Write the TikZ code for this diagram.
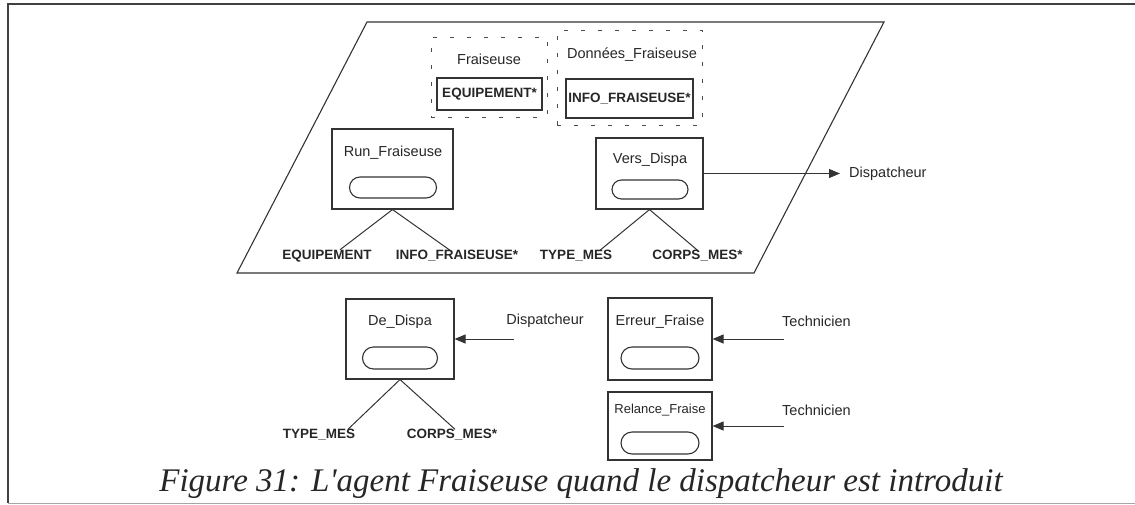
\documentclass[tikz,border=0pt]{standalone}
\usepackage{fontspec}
\setmainfont{Liberation Sans}
\newfontfamily\captionserif{Liberation Serif}
\usetikzlibrary{arrows.meta,shapes.misc}

\begin{document}
\begin{tikzpicture}[x=1pt,y=-1pt,
    every node/.style={inner sep=0pt, text=black!85},
    lbl/.style={font=\fontsize{14.5}{16}\selectfont},
    lblsmall/.style={font=\fontsize{13}{15}\selectfont},
    bold/.style={font=\fontsize{13.5}{15}\selectfont\bfseries},
    agentbox/.style n args={2}{draw=black!80, line width=1.1pt, minimum width=#1, minimum height=#2},
    pill/.style n args={2}{draw=black!80, line width=1.1pt, rounded rectangle, minimum width=#1, minimum height=#2},
    dotbox/.style={draw=black!70, line width=1pt, dash pattern=on 4pt off 13pt},
    msg/.style={draw=black!80, line width=1pt, -{Triangle[length=11pt,width=9pt]}}]
    \useasboundingbox (0,0) rectangle (1135,504);
    \draw[black!75, line width=1.8pt] (1135,4) -- (8,4) -- (8,503);
    \draw[black!35, line width=1pt] (8,503) -- (1135,503);

    \draw[black!80, line width=1.1pt] (367,22) -- (884,22) -- (754,273) -- (237,273) -- cycle;

    \node[dotbox, minimum width=116, minimum height=80] (grpFraiseuse) at (489,77) {};
    \node[lbl] (nFraiseuse) at (489,59) {Fraiseuse};
    \node[bold, draw=black!80, line width=1.1pt, minimum width=105, minimum height=32] (equipStar) at (489.5,94) {EQUIPEMENT*};

    \node[dotbox, minimum width=145, minimum height=95] (grpDonnees) at (629.5,77.5) {};
    \node[lbl] (nDonnees) at (632,55) {Données\_Fraiseuse};
    \node[bold, draw=black!80, line width=1.1pt, minimum width=127, minimum height=39] (infoStar) at (629.5,98.5) {INFO\_FRAISEUSE*};

    \node[agentbox={121}{80}] (run) at (392.5,169) {};
    \node[lbl] (runName) at (393,153) {Run\_Fraiseuse};
    \node[pill={87}{21}] (runOval) at (393,187.5) {};
    \node[bold] (runEquip) at (327,256) {EQUIPEMENT};
    \node[bold] (runInfo) at (457,256) {INFO\_FRAISEUSE*};
    \draw[black!80, line width=1pt] ([xshift=13]runEquip.north) -- (run.south) -- ([xshift=-7]runInfo.north);

    \node[agentbox={107}{71}] (vers) at (649.5,173.5) {};
    \node[lbl] (versName) at (650,160) {Vers\_Dispa};
    \node[pill={76}{19}] (versOval) at (650,189.5) {};
    \node[bold] (versType) at (576,256) {TYPE\_MES};
    \node[bold] (versCorps) at (697.5,256) {CORPS\_MES*};
    \draw[black!80, line width=1pt] ([xshift=24]versType.north) -- (vers.south) -- (versCorps.north);
    \node[lbl, anchor=west] (dispOut) at (849,173.5) {Dispatcheur};
    \draw[msg, shorten >=9pt] (vers.east) -- (dispOut.west);

    \node[agentbox={108}{80}] (deDispa) at (400,339) {};
    \node[lbl] (deName) at (400,322) {De\_Dispa};
    \node[pill={75}{22}] (deOval) at (400,358) {};
    \node[bold] (deType) at (319,435) {TYPE\_MES};
    \node[bold] (deCorps) at (452,435) {CORPS\_MES*};
    \draw[black!80, line width=1pt] ([xshift=29]deType.north) -- (deDispa.south) -- ([xshift=3]deCorps.north);
    \node[lbl] (dispIn) at (545,321) {Dispatcheur};
    \coordinate (dispInEnd) at (514,339);
    \draw[msg] (dispInEnd) -- (deDispa.east);

    \node[agentbox={104}{82}] (erreur) at (660,339) {};
    \node[lbl] (erreurName) at (660,322) {Erreur\_Fraise};
    \node[pill={78}{22}] (erreurOval) at (660,358) {};
    \node[lbl, anchor=west] (techA) at (782,321) {Technicien};
    \coordinate (techAEnd) at (784,339);
    \draw[msg] (techAEnd) -- (erreur.east);

    \node[agentbox={104}{68}] (relance) at (660,426) {};
    \node[lblsmall] (relanceName) at (660,410) {Relance\_Fraise};
    \node[pill={78}{22}] (relanceOval) at (660,443) {};
    \node[lbl, anchor=west] (techB) at (782,410) {Technicien};
    \coordinate (techBEnd) at (784,426);
    \draw[msg] (techBEnd) -- (relance.east);

    \node[font=\captionserif\itshape\fontsize{33}{36}\selectfont] (caption) at (581,484) {Figure 31: L'agent Fraiseuse quand le dispatcheur est introduit};
\end{tikzpicture}
\end{document}
